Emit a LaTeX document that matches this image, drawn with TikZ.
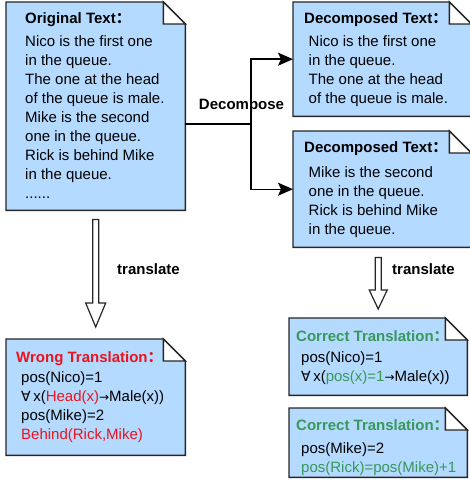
\documentclass[tikz,border=0pt]{standalone}
\usepackage{fontspec}
\setmainfont{Liberation Sans}
\newfontfamily\cjkfont{Noto Sans CJK SC}
\newfontfamily\symfont{DejaVu Sans}
\usetikzlibrary{positioning,arrows.meta}
\definecolor{paperblue}{RGB}{181,218,255}
\definecolor{wrongred}{RGB}{232,20,30}
\definecolor{rightgreen}{RGB}{56,152,92}
\newcommand{\fwcolon}{{\cjkfont ：}}
\newcommand{\allsym}{{\symfont\fontsize{14}{19}\selectfont ∀}}
\newcommand{\tosym}{{\symfont\fontsize{12}{19}\selectfont →}}
\tikzset{paper node/.style={anchor=north west,inner sep=0pt},
  doc line/.style={draw=black!85,line width=1.4pt,line join=miter},
  title text/.style={font=\bfseries\fontsize{15}{19}\selectfont,inner sep=0pt,anchor=north west},
  body text/.style={font=\fontsize{15}{19}\selectfont,align=left,inner sep=0pt,anchor=north west},
  step label/.style={font=\bfseries\fontsize{15}{19}\selectfont,inner sep=0pt},
  link/.style={line width=1.4pt,-{Stealth[length=15pt,width=13pt,inset=3pt]}},
  hollow/.style={draw=black!85,fill=white,line width=1.2pt,line join=miter},
}
% page with folded corner around a named box
\newcommand{\dogear}[1]{%
  \path[doc line,fill=paperblue] (#1.south west) -- (#1.north west) -- ([xshift=-22pt]#1.north east)
    -- ([yshift=-22pt]#1.north east) -- (#1.south east) -- cycle;
  \path[doc line,fill=white] ([xshift=-22pt]#1.north east) -- ([xshift=-22pt,yshift=-22pt]#1.north east)
    -- ([yshift=-22pt]#1.north east) -- cycle;
}
% hollow arrow pointing down from #1 to #2
\newcommand{\hollowarrow}[4]{%
  \path[hollow] ([xshift=-3pt]#1) -- ([xshift=-3pt,yshift=#4]#2) -- ([xshift=-#3,yshift=#4]#2) -- (#2)
    -- ([xshift=#3,yshift=#4]#2) -- ([xshift=3pt,yshift=#4]#2) -- ([xshift=3pt]#1) -- cycle;
}
\begin{document}
\begin{tikzpicture}[x=1pt,y=-1pt]
\useasboundingbox (0,0) rectangle (469,489);

\node[paper node,minimum width=179pt,minimum height=208pt] (orig) at (6,2) {};
\node[paper node,minimum width=178pt,minimum height=114pt] (dec1) at (293,2) {};
\node[paper node,minimum width=178pt,minimum height=116pt] (dec2) at (293,131) {};
\node[paper node,minimum width=179pt,minimum height=116pt] (wrong) at (6,339) {};
\node[paper node,minimum width=178pt,minimum height=77pt] (right1) at (289,318) {};
\node[paper node,minimum width=178pt,minimum height=69pt] (right2) at (289,408) {};

\dogear{orig}
\dogear{dec1}
\dogear{dec2}
\dogear{wrong}
\dogear{right1}
\dogear{right2}

% texts
\node[title text, below right=10.5pt and 19pt of orig.north west] (origt) {Original Text\fwcolon};
\node[body text, below right=33.5pt and 19pt of orig.north west] (origb) {Nico is the first one\\in the queue.\\The one at the head\\of the queue is male.\\Mike is the second\\one in the queue.\\Rick is behind Mike\\in the queue.\\......};

\node[title text, below right=10.5pt and 11pt of dec1.north west] (dec1t) {Decomposed Text\fwcolon};
\node[body text, below right=33.5pt and 15.5pt of dec1.north west] (dec1b) {Nico is the first one\\in the queue.\\The one at the head\\of the queue is male.};

\node[title text, below right=10.5pt and 11pt of dec2.north west] (dec2t) {Decomposed Text\fwcolon};
\node[body text, below right=35.5pt and 15.5pt of dec2.north west] (dec2b) {Mike is the second\\one in the queue.\\Rick is behind Mike\\in the queue.};

\node[title text, text=wrongred, below right=12.5pt and 10pt of wrong.north west] (wrongt) {Wrong Translation\fwcolon};
\node[body text, below right=32pt and 15pt of wrong.north west] (wrongb) {pos(Nico)=1\\\allsym\,x(\textcolor{wrongred}{Head(x)}\tosym Male(x))\\pos(Mike)=2\\\textcolor{wrongred}{Behind(Rick,Mike)}};

\node[title text, text=rightgreen, below right=12.5pt and 7pt of right1.north west] (right1t) {Correct Translation\fwcolon};
\node[body text, below right=33pt and 12pt of right1.north west] (right1b) {pos(Nico)=1\\\allsym\,x(\textcolor{rightgreen}{pos(x)=1}\tosym Male(x))};

\node[title text, text=rightgreen, below right=11.5pt and 7pt of right2.north west] (right2t) {Correct Translation\fwcolon};
\node[body text, below right=34pt and 12pt of right2.north west] (right2b) {pos(Mike)=2\\\textcolor{rightgreen}{pos(Rick)=pos(Mike)+1}};

% decompose
\coordinate (split) at (251,124);
\draw[line width=1.4pt] (orig.east |- split) -- (split);
\draw[link] (split) |- (dec1.west);
\draw[link] (split) |- (dec2.west);
\node[step label, above=11pt of split, xshift=-9.5pt] (declbl) {Decompose};

% translate
\coordinate (tr1s) at ([yshift=-9pt]orig.south);
\coordinate (tr1e) at ([yshift=12pt]wrong.north);
\hollowarrow{tr1s}{tr1e}{10pt}{24pt}
\node[step label, anchor=west] (tr1lbl) at (117,269) {translate};

\coordinate (tr2s) at ([yshift=-10pt]right1.north |- dec2.south);
\coordinate (tr2e) at ([yshift=9pt]right1.north);
\hollowarrow{tr2s}{tr2e}{9pt}{19pt}
\node[step label, anchor=west] (tr2lbl) at (392,269) {translate};
\end{tikzpicture}
\end{document}
